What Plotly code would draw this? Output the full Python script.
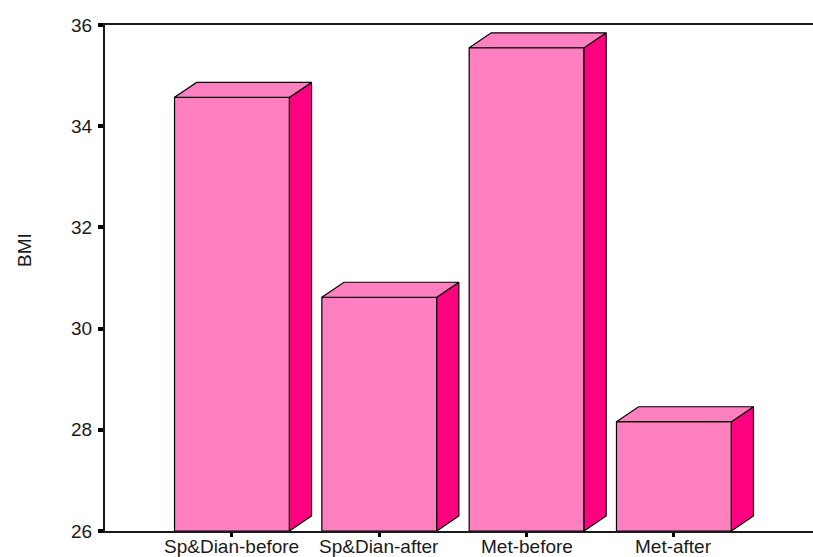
import plotly.graph_objects as go

categories = ["Sp&Dian-before", "Sp&Dian-after", "Met-before", "Met-after"]
bmi_values = [34.57, 30.62, 35.55, 28.16]
y_ticks = [26, 28, 30, 32, 34, 36]

FRONT = "#FF80C0"
SIDE = "#FF0080"
TOP = "#FF80C0"
BASE = 26
W = 0.78      # bar width (category units)
DX = 0.15     # depth offset in category units
DY = 0.296    # depth offset in BMI units

fig = go.Figure()

# front faces
fig.add_trace(go.Bar(
    x=list(range(len(categories))), y=[v - BASE for v in bmi_values], base=BASE,
    width=W, marker=dict(color=FRONT, line=dict(color="black", width=1.2)),
    hoverinfo="skip", showlegend=False))

# side and top faces
sx, sy = [], []
tx, ty = [], []
for i, v in enumerate(bmi_values):
    r = i + W / 2
    l = i - W / 2
    sx += [r, r, r + DX, r + DX, r, None]
    sy += [BASE, v, v + DY, BASE + DY, BASE, None]
    tx += [l, l + DX, r + DX, r, l, None]
    ty += [v, v + DY, v + DY, v, v, None]

fig.add_trace(go.Scatter(x=sx, y=sy, mode="lines", fill="toself", fillcolor=SIDE,
                         line=dict(color="black", width=1.2), hoverinfo="skip",
                         showlegend=False, cliponaxis=False))
fig.add_trace(go.Scatter(x=tx, y=ty, mode="lines", fill="toself", fillcolor=TOP,
                         line=dict(color="black", width=1.2), hoverinfo="skip",
                         showlegend=False, cliponaxis=False))

PLOT_H = 557 - 25 - 26
annotations = [dict(text="BMI", xref="paper", yref="paper",
                    x=(24 - 105) / 708, y=(531 - 250) / PLOT_H, showarrow=False,
                    xanchor="center", yanchor="middle",
                    textangle=-90, font=dict(size=19, color="#1a1a1a"))]
for i, c in enumerate(categories):
    annotations.append(dict(text=c, xref="x", yref="paper", x=i, y=-2.5 / PLOT_H,
                            xanchor="center", yanchor="top", showarrow=False,
                            font=dict(size=19, color="#1a1a1a")))

fig.update_layout(
    width=813, height=557,
    margin=dict(l=105, r=0, t=25, b=26, autoexpand=False),
    paper_bgcolor="white", plot_bgcolor="white",
    font=dict(family="Liberation Sans, Arial, sans-serif", size=19, color="#1a1a1a"),
    xaxis=dict(range=[-0.862, 3.944], tickmode="array",
               tickvals=list(range(len(categories))), showticklabels=False,
               showgrid=False, zeroline=False, showline=True, linecolor="#1a1a1a",
               linewidth=2, mirror=True, ticks="outside", ticklen=4, tickwidth=3,
               tickcolor="black", fixedrange=True, automargin=False),
    yaxis=dict(range=[26, 36], tickmode="array", tickvals=y_ticks,
               ticktext=[str(t) for t in y_ticks],
               showgrid=False, zeroline=False, showline=True, linecolor="#1a1a1a",
               linewidth=2, ticks="outside", ticklen=5, tickwidth=3.5,
               tickcolor="black", ticklabelstandoff=2, fixedrange=True,
               automargin=False),
    annotations=annotations,
)

fig.write_html("out.html", config={"displayModeBar": False},
               post_script="document.body.style.margin='0';document.body.style.overflow='hidden';")
